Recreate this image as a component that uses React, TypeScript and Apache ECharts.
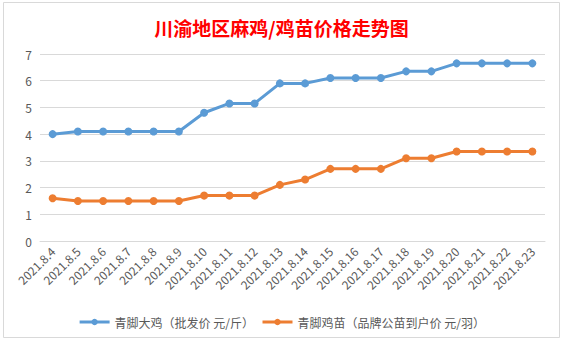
import React, { useEffect, useRef } from "react";
import * as echarts from "echarts";

const categories = [
  "2021.8.4", "2021.8.5", "2021.8.6", "2021.8.7", "2021.8.8", "2021.8.9", "2021.8.10",
  "2021.8.11", "2021.8.12", "2021.8.13", "2021.8.14", "2021.8.15", "2021.8.16",
  "2021.8.17", "2021.8.18", "2021.8.19", "2021.8.20", "2021.8.21", "2021.8.22", "2021.8.23",
];
const chickenName = "青脚大鸡（批发价 元/斤）";
const chickenValues = [4.0, 4.1, 4.1, 4.1, 4.1, 4.1, 4.8, 5.15, 5.15, 5.9, 5.9, 6.1, 6.1, 6.1, 6.35, 6.35, 6.65, 6.65, 6.65, 6.65];
const chickName = "青脚鸡苗（品牌公苗到户价 元/羽）";
const chickValues = [1.6, 1.5, 1.5, 1.5, 1.5, 1.5, 1.7, 1.7, 1.7, 2.1, 2.3, 2.7, 2.7, 2.7, 3.1, 3.1, 3.35, 3.35, 3.35, 3.35];
const titleText = "川渝地区麻鸡/鸡苗价格走势图";

export default function App() {
  const ref = useRef<HTMLDivElement>(null);
  useEffect(() => {
    if (!ref.current) return;
    const chart = echarts.init(ref.current, null, { renderer: "svg" });
    const font = "'Noto Sans CJK SC', 'Noto Sans', sans-serif";
    chart.setOption({
      animation: false,
      backgroundColor: "#ffffff",
      graphic: [
        {
          type: "rect",
          shape: { x: 3.5, y: 2.5, width: 556, height: 335 },
          style: { fill: "none", stroke: "#d9d9d9", lineWidth: 1 },
          silent: true,
        },
      ],
      title: {
        text: titleText,
        left: "center",
        top: 13,
        textStyle: {
          color: "#ff0000",
          fontSize: 19,
          fontWeight: "bold",
          fontFamily: "'Noto Sans CJK SC', serif",
        },
      },
      grid: { left: 40, right: 18, top: 54, bottom: 101, containLabel: false },
      xAxis: {
        type: "category",
        data: categories,
        boundaryGap: true,
        axisLine: { lineStyle: { color: "#d9d9d9" } },
        axisTick: { show: false },
        axisLabel: {
          rotate: 45,
          interval: 0,
          color: "#595959",
          fontSize: 12,
          fontFamily: font,
          margin: 8,
        },
      },
      yAxis: {
        type: "value",
        min: 0,
        max: 7,
        interval: 1,
        axisLine: { show: false },
        axisTick: { show: false },
        splitLine: { lineStyle: { color: "#d9d9d9" } },
        axisLabel: { color: "#595959", fontSize: 12, fontFamily: font, margin: 8 },
      },
      legend: {
        top: 311,
        left: "center",
        itemWidth: 30,
        itemHeight: 8,
        itemGap: 7,
        lineStyle: { width: 3 },
        textStyle: { color: "#595959", fontSize: 12, fontFamily: font },
        data: [chickenName, chickName],
      },
      series: [
        {
          name: chickenName,
          type: "line",
          data: chickenValues,
          symbol: "circle",
          symbolSize: 8,
          lineStyle: { width: 3, color: "#5b9bd5" },
          itemStyle: { color: "#5b9bd5" },
        },
        {
          name: chickName,
          type: "line",
          data: chickValues,
          symbol: "circle",
          symbolSize: 8,
          lineStyle: { width: 3, color: "#ed7d31" },
          itemStyle: { color: "#ed7d31" },
        },
      ],
    });
    return () => chart.dispose();
  }, []);
  return (
    <div
      ref={ref}
      style={{ position: "fixed", left: 0, top: 0, width: 563, height: 342 }}
    />
  );
}
